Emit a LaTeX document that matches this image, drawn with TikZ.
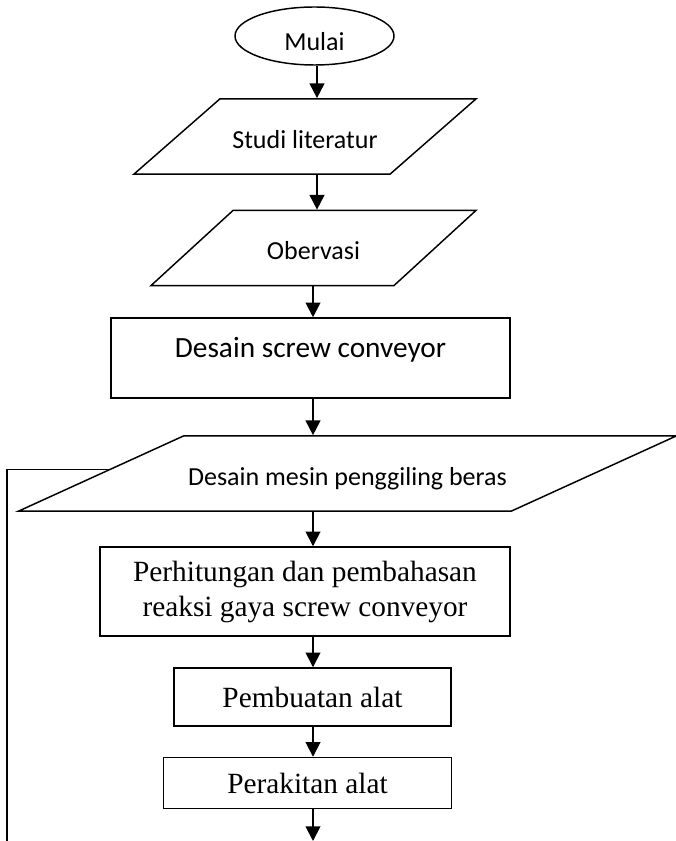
\documentclass[tikz,border=0pt]{standalone}
\usepackage{fontspec}
\setmainfont{Liberation Serif}
\newfontfamily\calibri{Carlito}
\usetikzlibrary{shapes.geometric,arrows.meta}

\begin{document}
\begin{tikzpicture}[x=0.75pt,y=-0.75pt,
	square/.style={rectangle, draw=black, line width=1.1pt, align=center, font=\fontsize{22}{26.25}\selectfont},
	io/.style={trapezium, trapezium stretches body=true, draw=black, line width=1.1pt, align=center, text height=19pt, text depth=1pt, inner ysep=18.2pt, font=\calibri\fontsize{19.5}{23}\selectfont},
	oval/.style={ellipse, draw=black, line width=1.1pt, inner sep=1pt},
	flow/.style={line width=1.4pt, -{Triangle[length=11pt,width=11pt]}}]
	\useasboundingbox (0,0) rectangle (675,841);
	
	%Nodes
	\node[oval, minimum width=119.25pt, minimum height=43.5pt, font=\calibri\fontsize{19.5}{23}\selectfont, text height=21.6pt, text depth=0pt]	(start)	at (314.5,36)	{Mulai};
	\node[io, trapezium left angle=41.2, trapezium right angle=138.8, minimum width=256.5pt]	(studi)	at (305,136.5)	{Studi literatur};
	\node[io, trapezium left angle=42.5, trapezium right angle=137.5, minimum width=243.75pt]	(obs)	at (313.5,248)	{Obervasi};
	\node[square, font=\calibri\fontsize{22}{26}\selectfont, minimum width=299.25pt, minimum height=60pt, text height=12pt, text depth=12.8pt]	(screw)	at (310.5,358)	{Desain screw conveyor};
	\node[io, trapezium left angle=24.5, trapezium right angle=155.5, minimum width=492.75pt]	(mesin)	at (347.5,473.5)	{Desain mesin penggiling beras};
	\node[square, minimum width=307.5pt, minimum height=66.75pt]	(hitung)	at (305,591.5)	{Perhitungan dan pembahasan\\reaksi gaya screw conveyor};
	\node[square, minimum width=207.75pt, minimum height=43.5pt]	(buat)	at (312.5,697)	{Pembuatan alat};
	\node[square, minimum width=216pt, minimum height=38.25pt]	(rakit)	at (307.5,783)	{Perakitan alat};
	
	%Coordinates
	\coordinate	(top)	at (317,0);
	\coordinate	(axis)	at (313,0);
	\coordinate	(out)	at (313,841);
	\coordinate	(back)	at (7,841);
	
	%Lines
	\draw[flow] (start.south -| top) -- (studi.north -| top);
	\draw[flow] (studi.south -| top) -- (obs.north -| top);
	\draw[flow] (obs.south -| axis) -- (screw.north -| axis);
	\draw[flow] (screw.south -| axis) -- (mesin.north -| axis);
	\draw[flow] (mesin.south -| axis) -- (hitung.north -| axis);
	\draw[flow] (hitung.south -| axis) -- (buat.north -| axis);
	\draw[flow] (buat.south -| axis) -- (rakit.north -| axis);
	\draw[flow] (rakit.south -| axis) -- (out);
	\draw[line width=1.1pt] (mesin.179) -| (back);
\end{tikzpicture}
\end{document}
